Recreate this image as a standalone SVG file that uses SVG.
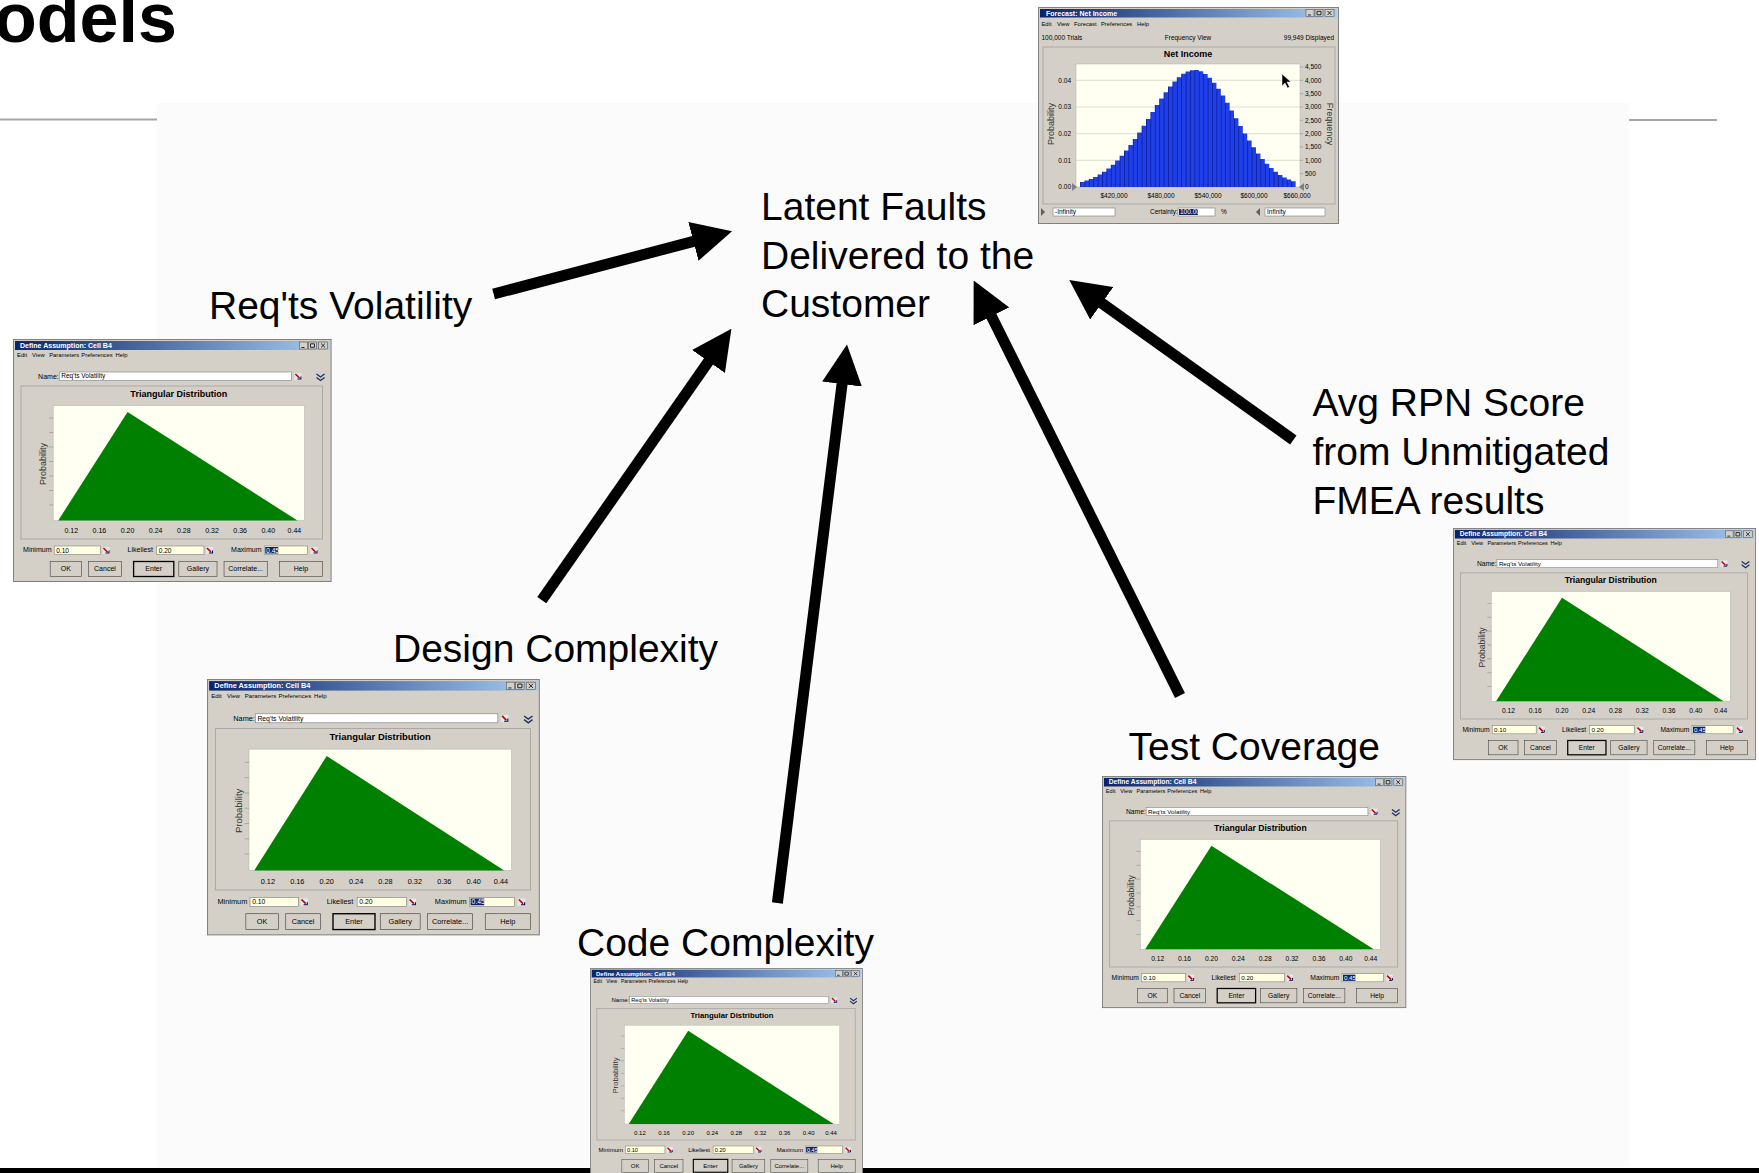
<svg xmlns="http://www.w3.org/2000/svg" xmlns:xlink="http://www.w3.org/1999/xlink" width="1759" height="1173" viewBox="0 0 1759 1173">
<style>
.lbl{font-family:"Liberation Sans",Arial,sans-serif;font-size:39px;fill:#000}
.ttl{font-family:"Liberation Sans",Arial,sans-serif;font-size:70px;font-weight:bold;fill:#000}
.ui{font-family:"Liberation Sans",Arial,sans-serif;font-size:7px;fill:#000}
.mn{font-family:"Liberation Sans",Arial,sans-serif;font-size:5.8px;fill:#000}
.sm{font-family:"Liberation Sans",Arial,sans-serif;font-size:6.5px;fill:#000}
.tt{font-family:"Liberation Sans",Arial,sans-serif;font-size:7px;font-weight:bold;fill:#fff}
.ct{font-family:"Liberation Sans",Arial,sans-serif;font-size:9px;font-weight:bold;fill:#000;text-anchor:middle}
.ax{font-family:"Liberation Sans",Arial,sans-serif;font-size:9px;fill:#333;text-anchor:middle}
.tk{font-family:"Liberation Sans",Arial,sans-serif;font-size:7px;fill:#000;text-anchor:middle}
.win{fill:#d4d0c8;stroke:#808080;stroke-width:1}
.fld{fill:#fff;stroke:#808080;stroke-width:0.6}
.yf{fill:#ffffe1;stroke:#808080;stroke-width:0.6}
.frm{fill:none;stroke:#a0a0a0;stroke-width:0.8}
.plot{fill:#fffff2;stroke:#b0b0b0;stroke-width:0.5}
.btn{fill:#d4d0c8;stroke:#404040;stroke-width:0.6}
.ctl{fill:#d4d0c8;stroke:#404040;stroke-width:0.5}
.tick{stroke:#808080;stroke-width:0.5}
.conn{stroke:#000;stroke-width:11;fill:none;marker-end:url(#ah)}
</style>
<defs>
<linearGradient id="tb" x1="0" y1="0" x2="1" y2="0">
<stop offset="0" stop-color="#0a246a"/><stop offset="1" stop-color="#a6caf0"/>
</linearGradient>
<pattern id="bars" patternUnits="userSpaceOnUse" x="42" y="0" width="4.4" height="216">
<rect width="4.4" height="216" fill="#1f3fe8"/><rect width="0.7" height="216" fill="#0a1a90"/>
</pattern>
<marker id="ah" markerUnits="userSpaceOnUse" markerWidth="40" markerHeight="40" viewBox="0 0 40 40" refX="15" refY="20" orient="auto">
<path d="M0,0 L40,20 L0,40 Z" fill="#000"/>
</marker>
<g id="pick">
<rect x="0" y="0" width="7" height="7" fill="#e8e8e8"/>
<path d="M1,1 L5,5" stroke="#c00000" stroke-width="1.6"/>
<path d="M3,6 H6.5 V3.5" stroke="#000060" stroke-width="1" fill="none"/>
</g>
<g id="chev">
<path d="M0,0 L4,3 L8,0 M0,3.5 L4,6.5 L8,3.5" stroke="#1c2f66" stroke-width="1.3" fill="none"/>
</g>
<g id="ctls">
<rect class="ctl" x="0" y="0" width="8" height="7"/><rect class="ctl" x="9" y="0" width="8" height="7"/><rect class="ctl" x="19" y="0" width="9" height="7"/>
<path d="M2,5.5 H5 M11,1.8 H15 V5.3 H11 Z M21.5,1.5 L25.5,5.5 M25.5,1.5 L21.5,5.5" stroke="#000" stroke-width="0.8" fill="none"/>
</g>
<g id="dlg">
<rect class="win" x="0.5" y="0.5" width="316" height="242"/>
<rect x="2" y="2" width="313" height="9" fill="url(#tb)"/>
<text class="tt" x="7" y="8.8">Define Assumption: Cell B4</text>
<use href="#ctls" x="285" y="3"/>
<text class="mn" y="18"><tspan x="4">Edit</tspan><tspan x="19">View</tspan><tspan x="36">Parameters</tspan><tspan x="68">Preferences</tspan><tspan x="102">Help</tspan></text>
<text class="ui" x="25" y="40">Name:</text>
<rect class="fld" x="46" y="33" width="231" height="8.5"/>
<text class="sm" x="48" y="39.5">Req'ts Volatility</text>
<use href="#pick" x="280" y="34"/>
<use href="#chev" x="302" y="35"/>
<rect class="frm" x="8" y="47" width="300" height="153"/>
<text class="ct" x="165" y="58">Triangular Distribution</text>
<rect class="plot" x="40" y="66.5" width="250" height="115"/>
<polygon points="45,181.5 114,73 283,181.5" fill="#008000"/>
<path class="tick" d="M36,79 H40 M36,93.5 H40 M36,108 H40 M36,122.5 H40 M36,137 H40 M36,151.5 H40 M36,166 H40"/>
<text class="ax" transform="translate(33,125) rotate(-90)">Probability</text>
<text class="tk" y="194"><tspan x="58">0.12</tspan><tspan x="86">0.16</tspan><tspan x="114">0.20</tspan><tspan x="142">0.24</tspan><tspan x="170">0.28</tspan><tspan x="198">0.32</tspan><tspan x="226">0.36</tspan><tspan x="254">0.40</tspan><tspan x="280">0.44</tspan></text>
<text class="ui" x="10" y="213.5">Minimum</text>
<rect class="yf" x="41" y="207" width="46" height="8.5"/>
<text class="sm" x="43" y="213.7">0.10</text>
<use href="#pick" x="89" y="208"/>
<text class="ui" x="114" y="213.5">Likeliest</text>
<rect class="yf" x="143" y="207" width="47" height="8.5"/>
<text class="sm" x="145" y="213.7">0.20</text>
<use href="#pick" x="192" y="208"/>
<text class="ui" x="217" y="213.5">Maximum</text>
<rect class="yf" x="250" y="207" width="43" height="8.5"/>
<rect x="251" y="208" width="13" height="6.5" fill="#0a246a"/>
<text class="sm" x="252" y="213.7" style="fill:#fff">0.45</text>
<use href="#pick" x="296" y="208"/>
<rect class="btn" x="37" y="222.5" width="31" height="15"/>
<rect class="btn" x="75" y="222.5" width="33" height="15"/>
<rect class="btn" x="120" y="222.5" width="40" height="15" style="stroke-width:1.3px;stroke:#000"/>
<rect class="btn" x="165" y="222.5" width="38" height="15"/>
<rect class="btn" x="210" y="222.5" width="43" height="15"/>
<rect class="btn" x="265" y="222.5" width="43" height="15"/>
<text class="tk" y="232.5"><tspan x="52.5">OK</tspan><tspan x="91.5">Cancel</tspan><tspan x="140">Enter</tspan><tspan x="184">Gallery</tspan><tspan x="231.5">Correlate...</tspan><tspan x="286.5">Help</tspan></text>
</g>
</defs>

<rect x="0" y="0" width="1759" height="1173" fill="#fff"/>
<rect x="157" y="103" width="1472" height="1064" fill="#fbfbfb"/>
<g id="page-frame">
<text class="ttl" x="-6" y="42">odels</text>
<rect x="0" y="118.5" width="157" height="2" fill="#a6a6a6"/>
<rect x="1629" y="119" width="88" height="2" fill="#a6a6a6"/>
<rect x="0" y="1168" width="1759" height="5" fill="#000"/>
</g>

<g id="connectors">
<path class="conn" d="M493.6,294 L707.9,237.6"/>
<path class="conn" d="M541.8,600.2 L717.1,349.2"/>
<path class="conn" d="M777.4,903 L843.9,369.2"/>
<path class="conn" d="M1180,695.5 L984.8,302.9"/>
<path class="conn" d="M1293.3,440 L1089.6,294.5"/>
</g>

<g id="node-latent-faults">
<text class="lbl"><tspan x="761" y="220">Latent Faults</tspan><tspan x="761" y="268.5">Delivered to the</tspan><tspan x="761" y="317">Customer</tspan></text>
<g id="forecast-net-income" transform="translate(1038,7)">
<rect class="win" x="0.5" y="0.5" width="300" height="216"/>
<rect x="2" y="2" width="297" height="8.5" fill="url(#tb)"/>
<text class="tt" x="8" y="8.6">Forecast: Net Income</text>
<use href="#ctls" x="268" y="2.5"/>
<text class="mn" y="19"><tspan x="3.5">Edit</tspan><tspan x="19">View</tspan><tspan x="36">Forecast</tspan><tspan x="63">Preferences</tspan><tspan x="99">Help</tspan></text>
<text class="sm" x="3.5" y="33">100,000 Trials</text>
<text class="sm" x="150" y="33" text-anchor="middle">Frequency View</text>
<text class="sm" x="296" y="33" text-anchor="end">99,949 Displayed</text>
<rect class="frm" x="5" y="40" width="292" height="157"/>
<text class="ct" x="150" y="49.5">Net Income</text>
<rect class="plot" x="38" y="57" width="224" height="123"/>
<path d="M38,73.3 H262 M38,100 H262 M38,126.7 H262 M38,153.3 H262" stroke="#c8c8b8" stroke-width="0.6"/>
<path fill="url(#bars)" d="M42,180 V174.9 H46.4 V173.6 H50.8 V171.9 H55.2 V169.9 H59.6 V167.5 H64 V164.7 H68.4 V161.5 H72.8 V157.8 H77.2 V153.5 H81.6 V148.8 H86 V143.6 H90.4 V138 H94.8 V131.9 H99.2 V125.5 H103.6 V118.7 H108 V111.9 H112.4 V104.9 H116.8 V98.1 H121.2 V91.5 H125.6 V85.2 H130 V79.5 H134.4 V74.4 H138.8 V70.2 H143.2 V66.8 H147.6 V64.5 H152 V63.2 H156.4 V63.1 H160.8 V64.3 H165.2 V66.9 H169.6 V70.7 H174 V75.7 H178.4 V81.7 H182.8 V88.4 H187.2 V95.7 H191.6 V103.4 H196 V111.2 H200.4 V118.9 H204.8 V126.4 H209.2 V133.6 H213.6 V140.3 H218 V146.4 H222.4 V152 H226.8 V156.8 H231.2 V161.1 H235.6 V164.8 H240 V167.9 H244.4 V170.5 H248.8 V172.6 H253.2 V174.3 H257.6 V180 Z"/>
<text class="sm" text-anchor="end"><tspan x="33" y="75.5">0.04</tspan><tspan x="33" y="102.2">0.03</tspan><tspan x="33" y="128.9">0.02</tspan><tspan x="33" y="155.5">0.01</tspan><tspan x="33" y="182.2">0.00</tspan></text>
<text class="ax" transform="translate(16,117) rotate(-90)">Probability</text>
<path class="tick" d="M262,60 H265 M262,73.3 H265 M262,86.7 H265 M262,100 H265 M262,113.3 H265 M262,126.7 H265 M262,140 H265 M262,153.3 H265 M262,166.7 H265 M262,180 H265"/>
<text class="sm"><tspan x="267" y="62.2">4,500</tspan><tspan x="267" y="75.5">4,000</tspan><tspan x="267" y="88.9">3,500</tspan><tspan x="267" y="102.2">3,000</tspan><tspan x="267" y="115.5">2,500</tspan><tspan x="267" y="128.9">2,000</tspan><tspan x="267" y="142.2">1,500</tspan><tspan x="267" y="155.5">1,000</tspan><tspan x="267" y="168.9">500</tspan><tspan x="267" y="182.2">0</tspan></text>
<text class="ax" transform="translate(289,117) rotate(90)">Frequency</text>
<path d="M34,176 L39,180 L34,184 Z M266,176 L261,180 L266,184 Z" fill="#808080"/>
<text class="sm" text-anchor="middle" y="191"><tspan x="76">$420,000</tspan><tspan x="123">$480,000</tspan><tspan x="170">$540,000</tspan><tspan x="216">$600,000</tspan><tspan x="259">$660,000</tspan></text>
<path d="M244,67 V79 L247,76 L249.5,81 L251.5,80 L249,75 L253,75 Z" fill="#000" stroke="#fff" stroke-width="0.5"/>
<path d="M3,201 L7,205 L3,209 Z M222,201 L218,205 L222,209 Z" fill="#606060"/>
<rect class="fld" x="15" y="201" width="62" height="8"/>
<text class="sm" x="17" y="207.3">-Infinity</text>
<text class="sm" x="112" y="207.3">Certainty:</text>
<rect class="fld" x="140" y="201" width="37" height="8"/>
<rect x="141" y="202" width="19" height="6" fill="#0a246a"/>
<text class="sm" x="142" y="207.3" style="fill:#fff">100.00</text>
<text class="sm" x="183" y="207.3">%</text>
<rect class="fld" x="227" y="201" width="60" height="8"/>
<text class="sm" x="229" y="207.3">Infinity</text>
</g>
</g>

<g id="node-reqts-volatility">
<text class="lbl" x="209" y="318.5">Req'ts Volatility</text>
<use href="#dlg" transform="translate(13,339) scale(1.005,1.0)"/>
</g>

<g id="node-design-complexity">
<text class="lbl" x="393" y="662">Design Complexity</text>
<use href="#dlg" transform="translate(207,679) scale(1.05,1.055)"/>
</g>

<g id="node-code-complexity">
<text class="lbl" x="577" y="956">Code Complexity</text>
<use href="#dlg" transform="translate(590,968) scale(0.861,0.86)"/>
</g>

<g id="node-test-coverage">
<text class="lbl" x="1128.5" y="759.5">Test Coverage</text>
<use href="#dlg" transform="translate(1102,776) scale(0.96,0.955)"/>
</g>

<g id="node-avg-rpn">
<text class="lbl"><tspan x="1312.5" y="416">Avg RPN Score</tspan><tspan x="1312.5" y="465">from Unmitigated</tspan><tspan x="1312.5" y="514">FMEA results</tspan></text>
<use href="#dlg" transform="translate(1453,528) scale(0.956,0.955)"/>
</g>
</svg>
